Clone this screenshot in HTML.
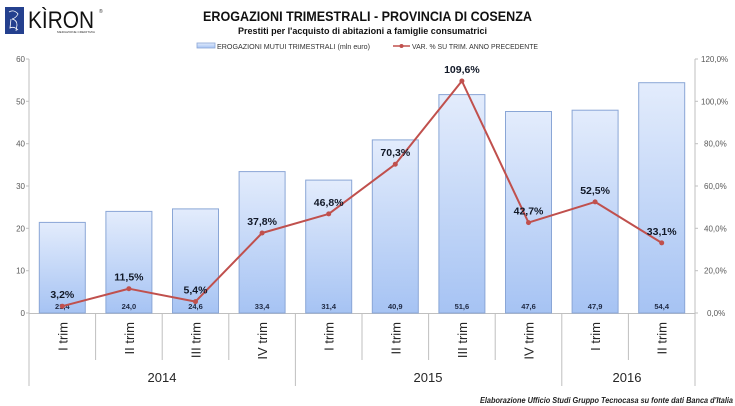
<!DOCTYPE html>
<html><head><meta charset="utf-8"><style>
html,body{margin:0;padding:0;background:#fff;}
svg{display:block;font-family:"Liberation Sans",sans-serif;}
</style></head><body>
<svg width="735" height="406" viewBox="0 0 735 406" xmlns="http://www.w3.org/2000/svg">
<defs>
<linearGradient id="g" x1="0" y1="0" x2="0" y2="1">
<stop offset="0" stop-color="#e3ecfc"/><stop offset="1" stop-color="#a6c3f3"/>
</linearGradient>
</defs>
<rect width="735" height="406" fill="#fff"/>
<!-- logo -->
<rect x="5" y="7" width="19" height="27" fill="#24408e"/>
<path d="M9 12 q5 -3 9 2 q-2 4 -6 5 q5 1 5 6 l-1 6 M11 19 l-1 9 q4 -2 8 2" fill="none" stroke="#fff" stroke-width="0.8"/>
<text x="28" y="28" font-size="24" fill="#111" textLength="66" lengthAdjust="spacingAndGlyphs">KÌRON</text>
<text x="99" y="13" font-size="5" fill="#333">®</text>
<text x="57" y="33" font-size="3" fill="#333" textLength="38" lengthAdjust="spacingAndGlyphs">MEDIAZIONE CREDITIZIA</text>
<!-- titles -->
<text x="203" y="21" font-size="14" font-weight="bold" fill="#111" textLength="329" lengthAdjust="spacingAndGlyphs">EROGAZIONI TRIMESTRALI - PROVINCIA DI COSENZA</text>
<text x="238" y="34" font-size="9.5" font-weight="bold" fill="#111" textLength="249" lengthAdjust="spacingAndGlyphs">Prestiti per l'acquisto di abitazioni a famiglie consumatrici</text>
<!-- legend -->
<rect x="197" y="43" width="18" height="5" fill="url(#g)" stroke="#8aa6d6" stroke-width="0.8"/>
<text x="217" y="49" font-size="7.5" fill="#333" textLength="153" lengthAdjust="spacingAndGlyphs">EROGAZIONI MUTUI TRIMESTRALI (mln euro)</text>
<line x1="393" y1="46" x2="410" y2="46" stroke="#c0504d" stroke-width="1.5"/>
<circle cx="401.5" cy="46" r="2" fill="#c0504d"/>
<text x="412" y="49" font-size="7.5" fill="#333" textLength="126" lengthAdjust="spacingAndGlyphs">VAR. % SU TRIM. ANNO PRECEDENTE</text>
<!-- axes -->
<g stroke="#bfbfbf" stroke-width="1">
<line x1="29" y1="59" x2="29" y2="386"/>
<line x1="695" y1="59" x2="695" y2="386"/>
<line x1="29" y1="313.5" x2="695" y2="313.5"/>
<line x1="26" y1="59" x2="29" y2="59"/><line x1="26" y1="101.3" x2="29" y2="101.3"/><line x1="26" y1="143.7" x2="29" y2="143.7"/><line x1="26" y1="186" x2="29" y2="186"/><line x1="26" y1="228.3" x2="29" y2="228.3"/><line x1="26" y1="270.7" x2="29" y2="270.7"/><line x1="26" y1="313" x2="29" y2="313"/>
<line x1="695" y1="59" x2="698" y2="59"/><line x1="695" y1="101.3" x2="698" y2="101.3"/><line x1="695" y1="143.7" x2="698" y2="143.7"/><line x1="695" y1="186" x2="698" y2="186"/><line x1="695" y1="228.3" x2="698" y2="228.3"/><line x1="695" y1="270.7" x2="698" y2="270.7"/><line x1="695" y1="313" x2="698" y2="313"/>
<line x1="95.6" y1="313" x2="95.6" y2="360"/><line x1="162.2" y1="313" x2="162.2" y2="360"/><line x1="228.8" y1="313" x2="228.8" y2="360"/>
<line x1="295.4" y1="313" x2="295.4" y2="386"/>
<line x1="362" y1="313" x2="362" y2="360"/><line x1="428.6" y1="313" x2="428.6" y2="360"/><line x1="495.2" y1="313" x2="495.2" y2="360"/>
<line x1="561.8" y1="313" x2="561.8" y2="386"/>
<line x1="628.4" y1="313" x2="628.4" y2="360"/>
</g>
<g font-size="8" fill="#595959" text-anchor="end">
<text x="25" y="62">60</text><text x="25" y="104.3">50</text><text x="25" y="146.7">40</text><text x="25" y="189">30</text><text x="25" y="231.3">20</text><text x="25" y="273.7">10</text><text x="25" y="316">0</text>
</g>
<g font-size="8" fill="#595959">
<text x="701" y="62">120,0%</text><text x="701" y="104.3">100,0%</text><text x="704" y="146.7">80,0%</text><text x="704" y="189">60,0%</text><text x="704" y="231.3">40,0%</text><text x="704" y="273.7">20,0%</text><text x="707" y="316">0,0%</text>
</g>
<!-- bars -->
<g fill="url(#g)" stroke="#8aa6d6" stroke-width="1">
<rect x="39.3" y="222.4" width="46" height="90.6"/>
<rect x="105.9" y="211.4" width="46" height="101.6"/>
<rect x="172.5" y="208.9" width="46" height="104.1"/>
<rect x="239.1" y="171.6" width="46" height="141.4"/>
<rect x="305.7" y="180.1" width="46" height="132.9"/>
<rect x="372.3" y="139.9" width="46" height="173.1"/>
<rect x="438.9" y="94.6" width="46" height="218.4"/>
<rect x="505.5" y="111.5" width="46" height="201.5"/>
<rect x="572.1" y="110.2" width="46" height="202.8"/>
<rect x="638.7" y="82.7" width="46" height="230.3"/>
</g>
<g font-size="7.5" font-weight="bold" fill="#1f2a44" text-anchor="middle">
<text x="62.3" y="309">21,4</text><text x="128.9" y="309">24,0</text><text x="195.5" y="309">24,6</text><text x="262.1" y="309">33,4</text><text x="328.7" y="309">31,4</text><text x="395.3" y="309">40,9</text><text x="461.9" y="309">51,6</text><text x="528.5" y="309">47,6</text><text x="595.1" y="309">47,9</text><text x="661.7" y="309">54,4</text>
</g>
<!-- line -->
<polyline fill="none" stroke="#c0504d" stroke-width="2" stroke-linejoin="round" points="62.3,306.2 128.9,288.7 195.5,301.6 262.1,233 328.7,213.9 395.3,164.2 461.9,81 528.5,222.6 595.1,201.9 661.7,242.9"/>
<g fill="#c0504d">
<circle cx="62.3" cy="306.2" r="2.5"/><circle cx="128.9" cy="288.7" r="2.5"/><circle cx="195.5" cy="301.6" r="2.5"/><circle cx="262.1" cy="233" r="2.5"/><circle cx="328.7" cy="213.9" r="2.5"/><circle cx="395.3" cy="164.2" r="2.5"/><circle cx="461.9" cy="81" r="2.5"/><circle cx="528.5" cy="222.6" r="2.5"/><circle cx="595.1" cy="201.9" r="2.5"/><circle cx="661.7" cy="242.9" r="2.5"/>
</g>
<g font-size="10.5" font-weight="bold" fill="#111827" text-anchor="middle">
<text x="62.3" y="298.2">3,2%</text><text x="128.9" y="280.7">11,5%</text><text x="195.5" y="293.6">5,4%</text><text x="262.1" y="225">37,8%</text><text x="328.7" y="205.9">46,8%</text><text x="395.3" y="156.2">70,3%</text><text x="461.9" y="73">109,6%</text><text x="528.5" y="214.6">42,7%</text><text x="595.1" y="193.9">52,5%</text><text x="661.7" y="234.9">33,1%</text>
</g>
<!-- category labels -->
<g font-size="13" fill="#262626" text-anchor="end">
<text transform="translate(67.3,322) rotate(-90)">I trim</text>
<text transform="translate(133.9,322) rotate(-90)">II trim</text>
<text transform="translate(200.5,322) rotate(-90)">III trim</text>
<text transform="translate(267.1,322) rotate(-90)">IV trim</text>
<text transform="translate(333.7,322) rotate(-90)">I trim</text>
<text transform="translate(400.3,322) rotate(-90)">II trim</text>
<text transform="translate(466.9,322) rotate(-90)">III trim</text>
<text transform="translate(533.5,322) rotate(-90)">IV trim</text>
<text transform="translate(600.1,322) rotate(-90)">I trim</text>
<text transform="translate(666.7,322) rotate(-90)">II trim</text>
</g>
<g font-size="13" fill="#262626" text-anchor="middle">
<text x="162" y="382">2014</text><text x="428" y="382">2015</text><text x="627" y="382">2016</text>
</g>
<text x="480" y="403" font-size="8.5" font-style="italic" font-weight="bold" fill="#222" textLength="253" lengthAdjust="spacingAndGlyphs">Elaborazione Ufficio Studi Gruppo Tecnocasa su fonte dati Banca d'Italia</text>
</svg>
</body></html>
